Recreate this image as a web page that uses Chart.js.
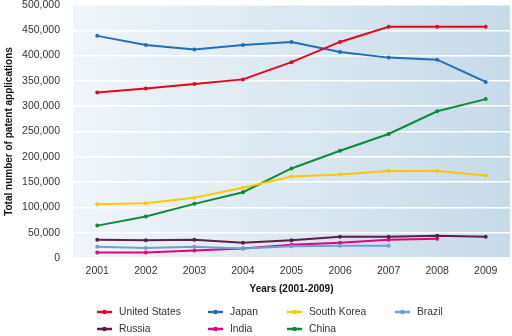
<!DOCTYPE html>
<html>
<head>
<meta charset="utf-8">
<script src="https://cdn.jsdelivr.net/npm/chart.js@4.4.1/dist/chart.umd.min.js"></script>
<style>
  html, body { margin: 0; padding: 0; background: #ffffff; }
  #wrap { width: 512px; height: 336px; position: relative; }
</style>
</head>
<body>
<div id="wrap"><canvas id="c" width="512" height="336"></canvas></div>
<script>
const years = ['2001','2002','2003','2004','2005','2006','2007','2008','2009'];
const unitedStates = [327000, 335000, 344000, 353000, 387000, 427000, 457000, 457000, 457000];
const japan        = [439000, 421000, 412000, 421000, 427000, 407000, 396000, 392000, 348000];
const southKorea   = [106000, 108000, 119000, 139000, 161000, 165000, 172000, 172000, 163000];
const brazil       = [22000, 20000, 22000, 19000, 23000, 24000, 24000, null, null];
const russia       = [36000, 35000, 36000, 30000, 35000, 42000, 42000, 44000, 42000];
const india        = [11000, 11000, 15000, 19000, 26000, 30000, 36000, 38000, null];
const china        = [64000, 82000, 107000, 130000, 177000, 212000, 245000, 290000, 314000];
const seriesNames  = ['United States','Japan','South Korea','Brazil','Russia','India','China'];
const seriesColors = ['#e2061b','#1d6fb8','#fcc900','#6f9ed4','#5b1f4a','#e5007d','#0b8c3c'];
const seriesData   = [unitedStates, japan, southKorea, brazil, russia, india, china];

const FONT = "'Liberation Sans', Arial, Helvetica, sans-serif";

const bgPlugin = {
  id: 'bg',
  beforeDraw(chart) {
    const {ctx, chartArea: a} = chart;
    const g = ctx.createLinearGradient(a.left, 0, a.right, 0);
    g.addColorStop(0, '#eff5fa');
    g.addColorStop(0.5, '#dbe8f1');
    g.addColorStop(1, '#c5dae8');
    ctx.save();
    ctx.fillStyle = g;
    ctx.fillRect(a.left, a.top, a.right - a.left, a.bottom - a.top);
    ctx.restore();
  }
};

const legendCols = [97, 208, 287, 395];
const legendRows = [312, 329];
const legendPlugin = {
  id: 'gridLegend',
  afterDraw(chart) {
    const ctx = chart.ctx;
    ctx.save();
    chart.data.datasets.forEach((ds, i) => {
      const col = i < 4 ? i : i - 4;
      const row = i < 4 ? 0 : 1;
      const x = legendCols[col], y = legendRows[row];
      ctx.strokeStyle = ds.borderColor;
      ctx.lineWidth = 2.5;
      ctx.beginPath();
      ctx.moveTo(x, y); ctx.lineTo(x + 15, y);
      ctx.stroke();
      ctx.fillStyle = ds.borderColor;
      ctx.beginPath();
      ctx.arc(x + 7.5, y, 2.2, 0, Math.PI * 2);
      ctx.fill();
      ctx.fillStyle = '#333333';
      ctx.font = '10.3px ' + FONT;
      ctx.textBaseline = 'middle';
      ctx.textAlign = 'left';
      ctx.fillText(ds.label, x + 22, y);
    });
    ctx.restore();
  }
};

new Chart(document.getElementById('c'), {
  type: 'line',
  data: {
    labels: years,
    datasets: seriesNames.map((name, i) => ({
      label: name,
      data: seriesData[i],
      borderColor: seriesColors[i],
      backgroundColor: seriesColors[i],
      borderWidth: 2,
      pointRadius: 2,
      pointHoverRadius: 2,
      pointBorderWidth: 0,
      tension: 0,
      spanGaps: false
    }))
  },
  options: {
    responsive: false,
    animation: false,
    devicePixelRatio: 1,
    layout: { padding: { left: 0, top: 5, right: 1, bottom: 40 } },
    plugins: {
      legend: { display: false },
      tooltip: { enabled: false }
    },
    scales: {
      x: {
        offset: true,
        grid: { display: false, drawTicks: false },
        border: { display: false },
        ticks: { color: '#333333', font: { family: FONT, size: 10.5 }, padding: 7, maxRotation: 0 },
        title: { display: true, text: 'Years (2001-2009)', color: '#111111',
                 font: { family: FONT, size: 10, weight: 'bold' }, padding: { top: 0, bottom: 1 } },
        afterFit(s) { s.height = 38; s.paddingLeft = 0; s.paddingRight = 0; }
      },
      y: {
        min: 0, max: 500000,
        grid: { color: '#ffffff', lineWidth: 1.5, drawTicks: false },
        border: { display: false },
        ticks: {
          stepSize: 50000,
          color: '#333333',
          font: { family: FONT, size: 10.5 },
          padding: 13,
          callback: v => v.toLocaleString('en-US')
        },
        title: { display: true, text: 'Total number of patent applications', color: '#111111',
                 font: { family: FONT, size: 10, weight: 'bold' }, padding: { top: 3, bottom: 0 } },
        afterFit(s) { s.width = 73; s.paddingTop = 0; s.paddingBottom = 0; }
      }
    }
  },
  plugins: [bgPlugin, legendPlugin]
});
</script>
</body>
</html>
